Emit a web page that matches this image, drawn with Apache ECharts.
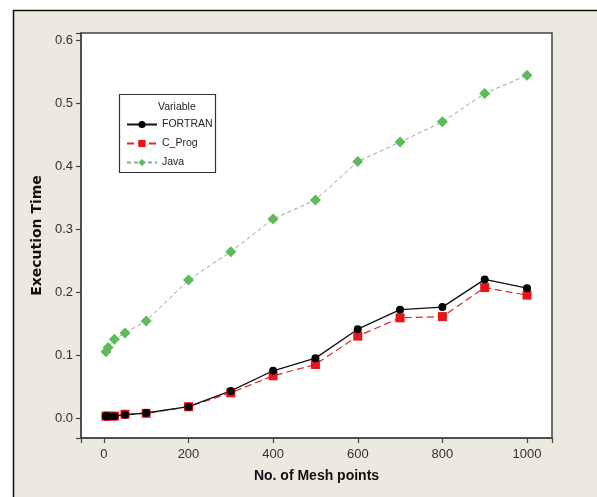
<!DOCTYPE html>
<html>
<head>
<meta charset="utf-8">
<script src="https://cdn.jsdelivr.net/npm/echarts@6/dist/echarts.min.js"></script>
<style>
  html, body { margin: 0; padding: 0; background: #fff; }
  #chart { width: 597px; height: 497px; }
</style>
</head>
<body>
<div id="chart"></div>
<script>
// mesh points on the x axis
const meshPoints = [5, 10, 25, 50, 100, 200, 300, 400, 500, 600, 700, 800, 900, 1000]
const fortran = [0.003, 0.003, 0.003, 0.005, 0.008, 0.018, 0.043, 0.075, 0.095, 0.141, 0.172, 0.176, 0.220, 0.206]
const cProg = [0.003, 0.003, 0.003, 0.006, 0.0075, 0.018, 0.040, 0.067, 0.085, 0.130, 0.159, 0.161, 0.207, 0.195]
const java = [0.105, 0.112, 0.125, 0.135, 0.154, 0.219, 0.264, 0.316, 0.346, 0.407, 0.438, 0.470, 0.515, 0.544]
const xTicks = [0, 200, 400, 600, 800, 1000]
const yTicks = [0, 0.1, 0.2, 0.3, 0.4, 0.5, 0.6]

const pairs = vals => meshPoints.map((x, i) => [x, vals[i]])

const chart = echarts.init(document.getElementById('chart'))
const labelFont = { color: '#333', fontSize: 13, fontFamily: 'Liberation Sans' }

chart.setOption({
  animation: false,
  backgroundColor: '#fff',
  graphic: [
    {
      type: 'rect',
      z: -10,
      shape: { x: 13.5, y: 10.5, width: 600, height: 500 },
      style: { fill: '#ECE9E1', stroke: '#111', lineWidth: 1.5 }
    },
    {
      type: 'rect',
      z: 5,
      shape: { x: 119.5, y: 94.5, width: 96, height: 78 },
      style: { fill: '#fff', stroke: '#333', lineWidth: 1.2 }
    },
    {
      type: 'text',
      z: 6,
      left: 158,
      top: 102,
      style: { text: 'Variable', fill: '#222', font: '10.5px "Liberation Sans"' }
    }
  ],
  grid: {
    left: 81,
    top: 33,
    right: 45,
    bottom: 59,
    show: true,
    backgroundColor: '#fff',
    borderColor: '#444',
    borderWidth: 1.5
  },
  legend: {
    orient: 'vertical',
    left: 121,
    top: 114,
    z: 10,
    itemWidth: 30,
    itemHeight: 9,
    itemGap: 8,
    textStyle: { color: '#222', fontSize: 10.5, fontFamily: 'Liberation Sans' },
    data: ['FORTRAN', 'C_Prog', 'Java']
  },
  xAxis: {
    type: 'value',
    min: -54,
    max: 1059,
    splitNumber: 5,
    name: 'No. of Mesh points',
    nameLocation: 'middle',
    nameGap: 31,
    nameTextStyle: { color: '#111', fontSize: 14, fontWeight: 'bold', fontFamily: 'Liberation Sans' },
    axisLine: { show: true, onZero: false, lineStyle: { color: '#444', width: 1.5 } },
    axisTick: { show: true, inside: false, length: 5, lineStyle: { color: '#444', width: 1.2 } },
    axisLabel: Object.assign({ customValues: xTicks, margin: 10, formatter: v => String(v) }, labelFont),
    splitLine: { show: false }
  },
  yAxis: {
    type: 'value',
    min: -0.0317,
    max: 0.611,
    splitNumber: 6,
    name: 'Execution Time',
    nameLocation: 'middle',
    nameGap: 37,
    nameTextStyle: { color: '#111', fontSize: 14, fontWeight: 'bold', fontFamily: 'DejaVu Sans' },
    axisLine: { show: true, onZero: false, lineStyle: { color: '#444', width: 1.5 } },
    axisTick: { show: true, inside: false, length: 5, lineStyle: { color: '#444', width: 1.2 } },
    axisLabel: Object.assign({
      customValues: yTicks,
      margin: 8,
      formatter: v => v.toFixed(1)
    }, labelFont),
    splitLine: { show: false }
  },
  series: [
    {
      name: 'Java',
      type: 'line',
      data: pairs(java),
      symbol: 'diamond',
      symbolSize: 11,
      itemStyle: { color: '#5DBB5D' },
      lineStyle: { color: '#8DAA8D', width: 1, type: [4, 3] }
    },
    {
      name: 'C_Prog',
      type: 'line',
      data: pairs(cProg),
      symbol: 'rect',
      symbolSize: 9,
      itemStyle: { color: '#E8161B' },
      lineStyle: { color: '#E0262B', width: 1.2, type: [7, 4] }
    },
    {
      name: 'FORTRAN',
      type: 'line',
      data: pairs(fortran),
      symbol: 'circle',
      symbolSize: 8,
      itemStyle: { color: '#000' },
      lineStyle: { color: '#111', width: 1.3 }
    }
  ]
})
</script>
</body>
</html>
